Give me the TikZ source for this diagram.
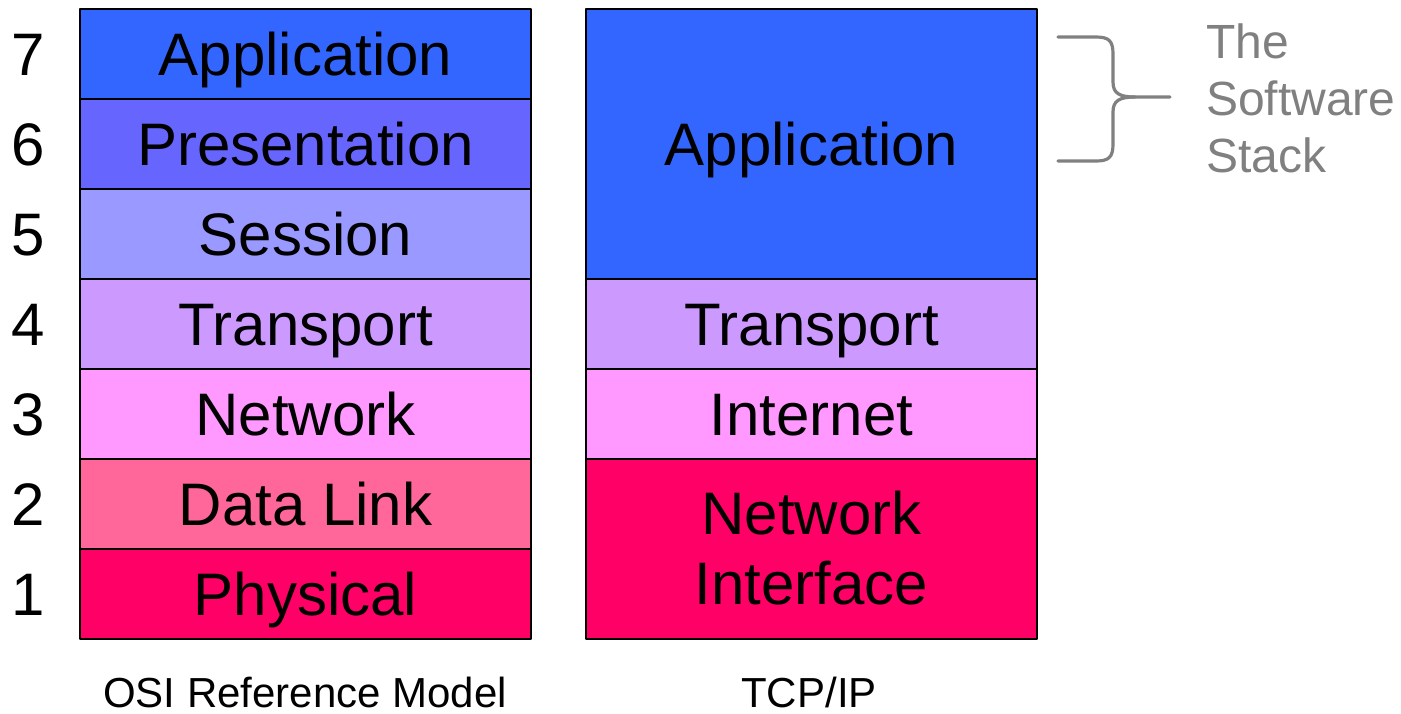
\documentclass[tikz,border=0pt]{standalone}
\usepackage{fontspec}
\setmainfont{Liberation Sans}
\usepackage{xcolor}
\usetikzlibrary{positioning}

\definecolor{layerA}{HTML}{3366FF}
\definecolor{layerP}{HTML}{6666FF}
\definecolor{layerS}{HTML}{9999FF}
\definecolor{layerT}{HTML}{CC99FF}
\definecolor{layerN}{HTML}{FF99FF}
\definecolor{layerD}{HTML}{FF6699}
\definecolor{layerF}{HTML}{FF0066}
\definecolor{stackgray}{HTML}{808080}

\tikzset{
  box/.style={draw=black,line width=1pt,inner sep=0pt,outer sep=0pt,
    minimum width=225.5pt,minimum height=45pt,align=center,
    font=\fontsize{30}{35}\selectfont},
  layer/.style={box,text height=21.5pt,text depth=0pt},
  num/.style={font=\fontsize{30}{36}\selectfont,text height=21.5pt,text depth=0pt},
  caption/.style={font=\fontsize{21}{25}\selectfont}
}

\begin{document}
\begin{tikzpicture}[line cap=round,line join=round,x=0.5pt,y=-0.5pt]
                \useasboundingbox (0,0) rectangle (1401,713);
                % OSI reference model
                \node[layer,fill=layerA] (osi7) at (305.5,53.5) {Application};
                \node[layer,fill=layerP] (osi6) at (305.5,143.5) {Presentation};
                \node[layer,fill=layerS] (osi5) at (305.5,233.5) {Session};
                \node[layer,fill=layerT] (osi4) at (305.5,323.5) {Transport};
                \node[layer,fill=layerN] (osi3) at (305.5,413.5) {Network};
                \node[layer,fill=layerD] (osi2) at (305.5,503.5) {Data Link};
                \node[layer,fill=layerF] (osi1) at (305.5,593.5) {Physical};
                \foreach \n in {1,...,7}
                    \node[num] (nr\n) at (28,{593.5-90*(\n-1)}) {\n};
                % TCP/IP
                \node[layer,fill=layerA,minimum height=135pt] (tcpA) at (811.5,143.5) {Application};
                \node[layer,fill=layerT] (tcpT) at (811.5,323.5) {Transport};
                \node[layer,fill=layerN] (tcpI) at (811.5,413.5) {Internet};
                \node[box,fill=layerF,minimum height=90pt] (tcpN) at (811.5,548.5) {Network\\Interface};
                % captions
                \node[caption] (osiname) at (305,692) {OSI Reference Model};
                \node[caption] (tcpname) at (809,692) {TCP/IP};
                % software stack brace
                \draw [stackgray,line width=1.6pt] (1058,37) -- (1096,37) .. controls (1109,37) and (1113,41) .. (1113,54)
                    -- (1113,82) .. controls (1113,93) and (1119,97) .. (1135,97) -- (1170,97);
                \draw [stackgray,line width=1.6pt] (1058,161) -- (1096,161) .. controls (1109,161) and (1113,157) .. (1113,144)
                    -- (1113,112) .. controls (1113,101) and (1119,97) .. (1135,97);
                \node[anchor=west,align=left,text=stackgray,font=\fontsize{24}{28.5}\selectfont] (stack) at (1199,98) {The\\Software\\Stack};
\end{tikzpicture}
\end{document}
